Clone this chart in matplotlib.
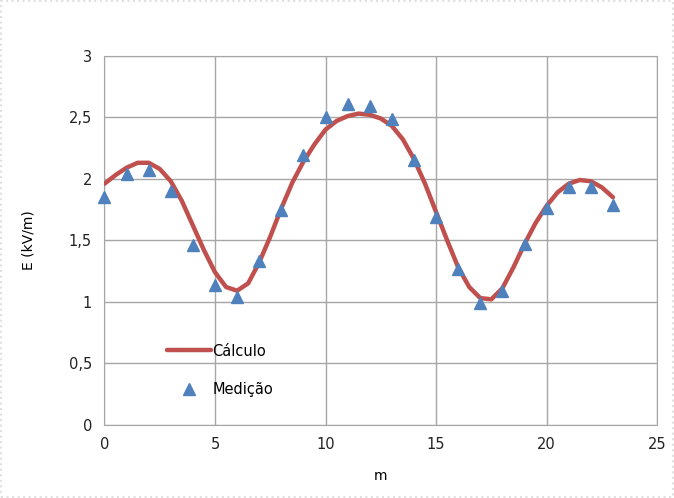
import numpy as np
import matplotlib.pyplot as plt
from matplotlib.ticker import FuncFormatter
from matplotlib.patches import Rectangle

# curva calculada (passo 0,5 m)
x_calc = np.arange(0, 23.5, 0.5)
e_calc = [1.96, 2.03, 2.09, 2.13, 2.13, 2.08, 1.98, 1.82, 1.62, 1.42,
          1.24, 1.12, 1.09, 1.15, 1.32, 1.53, 1.76, 1.97, 2.14, 2.28,
          2.40, 2.47, 2.51, 2.53, 2.52, 2.49, 2.43, 2.32, 2.16, 1.96,
          1.73, 1.50, 1.28, 1.12, 1.03, 1.02, 1.11, 1.28, 1.47, 1.64,
          1.78, 1.89, 1.96, 1.99, 1.98, 1.93, 1.85]

# medições
x_med = list(range(24))
e_med = [1.85, 2.04, 2.07, 1.90, 1.46, 1.14, 1.04, 1.33, 1.75, 2.19,
         2.50, 2.61, 2.59, 2.49, 2.15, 1.69, 1.27, 0.99, 1.09, 1.47,
         1.76, 1.93, 1.93, 1.79]

fig = plt.figure(figsize=(6.74, 4.98), dpi=100)
ax = fig.add_axes([0.155, 0.147, 0.82, 0.741])

ax.plot(x_calc, e_calc, color='#c0504d', lw=3.2, label='Cálculo', zorder=3,
        solid_joinstyle='round', solid_capstyle='round')
ax.plot(x_med, e_med, ls='none', marker='^', ms=9, color='#4f81bd',
        label='Medição', zorder=4, clip_on=False)

ax.set_xlim(0, 25)
ax.set_ylim(0, 3)
ax.set_xticks(range(0, 26, 5))
ax.set_yticks(np.arange(0, 3.01, 0.5))
ax.yaxis.set_major_formatter(FuncFormatter(lambda v, p: f'{v:g}'.replace('.', ',')))
ax.tick_params(length=0, labelsize=10.5, colors='#222222', pad=9)
ax.grid(True, color='#a6a6a6', lw=1)
for s in ax.spines.values():
    s.set_color('#a6a6a6')

ax.set_xlabel('m', fontsize=10, labelpad=12)
ax.set_ylabel('E (kV/m)', fontsize=10, labelpad=24)

ax.legend(loc='lower left', bbox_to_anchor=(0.09, 0.04), frameon=False,
          fontsize=10.5, handlelength=3.0, handletextpad=0.1, labelspacing=1.6)

fig.patches.append(Rectangle((0.002, 0.002), 0.996, 0.996, transform=fig.transFigure,
                             fill=False, ls=':', lw=1.5, ec='#e0e0e0'))

plt.savefig('out.png')
